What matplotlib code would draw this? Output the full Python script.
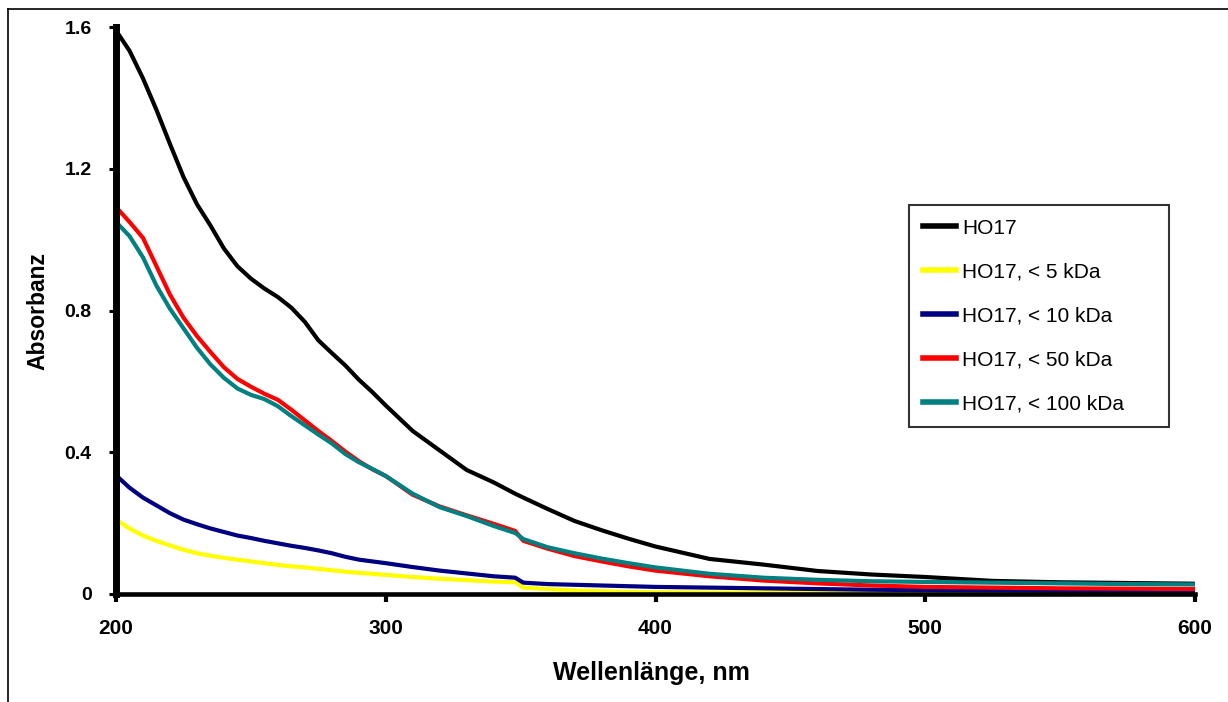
import matplotlib
matplotlib.use('Agg')
import matplotlib.pyplot as plt
from matplotlib.lines import Line2D

plt.rcParams['font.family'] = ['Liberation Sans', 'DejaVu Sans']

# wavelengths (nm), shared by all series
wavelength = [200, 205, 210, 215, 220, 225, 230, 235, 240, 245, 250, 255, 260,
              265, 270, 275, 280, 285, 290, 295, 300, 310, 320, 330, 340, 348,
              351, 360, 370, 380, 390, 400, 420, 440, 460, 480, 500, 525, 550,
              575, 600]

ho17 = [1.59, 1.533, 1.455, 1.366, 1.27, 1.177, 1.10, 1.04, 0.975, 0.925, 0.89,
        0.862, 0.838, 0.808, 0.768, 0.716, 0.68, 0.645, 0.605, 0.57, 0.532,
        0.46, 0.405, 0.35, 0.315, 0.283, 0.272, 0.24, 0.206, 0.18, 0.156,
        0.134, 0.099, 0.083, 0.065, 0.055, 0.048, 0.037, 0.033, 0.031, 0.029]

ho17_5k = [0.21, 0.185, 0.165, 0.15, 0.137, 0.125, 0.115, 0.108, 0.102, 0.097,
           0.092, 0.087, 0.082, 0.078, 0.075, 0.071, 0.067, 0.063, 0.06, 0.057,
           0.054, 0.048, 0.043, 0.039, 0.035, 0.033, 0.018, 0.014, 0.01, 0.008,
           0.006, 0.005, 0.004, 0.004, 0.004, 0.003, 0.003, 0.003, 0.003,
           0.003, 0.003]

ho17_10k = [0.335, 0.30, 0.272, 0.25, 0.228, 0.21, 0.197, 0.185, 0.175, 0.165,
            0.158, 0.15, 0.143, 0.136, 0.13, 0.123, 0.115, 0.105, 0.097, 0.092,
            0.087, 0.076, 0.066, 0.058, 0.05, 0.046, 0.032, 0.028, 0.026, 0.024,
            0.022, 0.02, 0.018, 0.016, 0.014, 0.012, 0.011, 0.01, 0.009, 0.008,
            0.007]

ho17_50k = [1.092, 1.05, 1.005, 0.925, 0.845, 0.78, 0.728, 0.683, 0.64, 0.607,
            0.585, 0.565, 0.548, 0.52, 0.49, 0.46, 0.432, 0.402, 0.375, 0.352,
            0.333, 0.28, 0.247, 0.222, 0.198, 0.178, 0.15, 0.128, 0.107, 0.092,
            0.078, 0.066, 0.05, 0.038, 0.03, 0.024, 0.02, 0.018, 0.016, 0.015,
            0.014]

ho17_100k = [1.05, 1.01, 0.95, 0.87, 0.805, 0.75, 0.695, 0.648, 0.61, 0.58,
             0.562, 0.55, 0.53, 0.502, 0.476, 0.45, 0.425, 0.395, 0.372, 0.353,
             0.333, 0.283, 0.245, 0.22, 0.192, 0.172, 0.155, 0.132, 0.115, 0.1,
             0.087, 0.075, 0.057, 0.046, 0.04, 0.036, 0.034, 0.032, 0.03, 0.028,
             0.027]

series = [
    ('HO17', ho17, 'black'),
    ('HO17, < 5 kDa', ho17_5k, '#FFFF00'),
    ('HO17, < 10 kDa', ho17_10k, '#000080'),
    ('HO17, < 50 kDa', ho17_50k, '#FF0000'),
    ('HO17, < 100 kDa', ho17_100k, '#008080'),
]

fig = plt.figure(figsize=(12.28, 7.02), dpi=100)
ax = fig.add_axes([116 / 1228, 108 / 702, 1079 / 1228, 567 / 702])

for label, vals, color in series:
    ax.plot(wavelength, vals, color=color, lw=3, label=label)

ax.set_xlim(200, 600)
ax.set_ylim(0, 1.6)
ax.set_xticks([200, 300, 400, 500, 600])
ax.set_yticks([0, 0.4, 0.8, 1.2, 1.6])
ax.set_yticklabels(['0', '0.4', '0.8', '1.2', '1.6'])

ax.spines['top'].set_visible(False)
ax.spines['right'].set_visible(False)
ax.spines['left'].set_linewidth(5)
ax.spines['bottom'].set_linewidth(3.3)
ax.tick_params(axis='y', direction='out', length=5.4, width=2.2, pad=12,
               labelsize=14)
ax.tick_params(axis='x', direction='out', length=6, width=3, pad=12,
               labelsize=15)
for t in ax.get_xticklabels() + ax.get_yticklabels():
    t.set_fontweight('bold')

leg = ax.legend(loc='upper left', bbox_to_anchor=(0.735, 0.291, 0.241, 0.395),
                mode='expand', fontsize=15, frameon=True, fancybox=False,
                edgecolor='black', handlelength=1.6, handletextpad=0.28,
                labelspacing=1.2, borderpad=0.65, borderaxespad=0)
leg.get_frame().set_linewidth(1.5)
for h in leg.get_lines():
    h.set_linewidth(4)

fig.text(651 / 1228, 1 - 673 / 702, 'Wellenlänge, nm', ha='center',
         va='center', fontsize=18, fontweight='bold')
fig.text(38 / 1228, 1 - 311 / 702, 'Absorbanz', ha='center', va='center',
         rotation=90, fontsize=16.5, fontweight='bold')

# outer chart border (only top and left edges visible)
fig.add_artist(Line2D([8 / 1228, 1], [1 - 9 / 702, 1 - 9 / 702],
                      transform=fig.transFigure, color='black', lw=1.2))
fig.add_artist(Line2D([8 / 1228, 8 / 1228], [0, 1 - 9 / 702],
                      transform=fig.transFigure, color='black', lw=1.2))

fig.savefig('out.png', dpi=100)
